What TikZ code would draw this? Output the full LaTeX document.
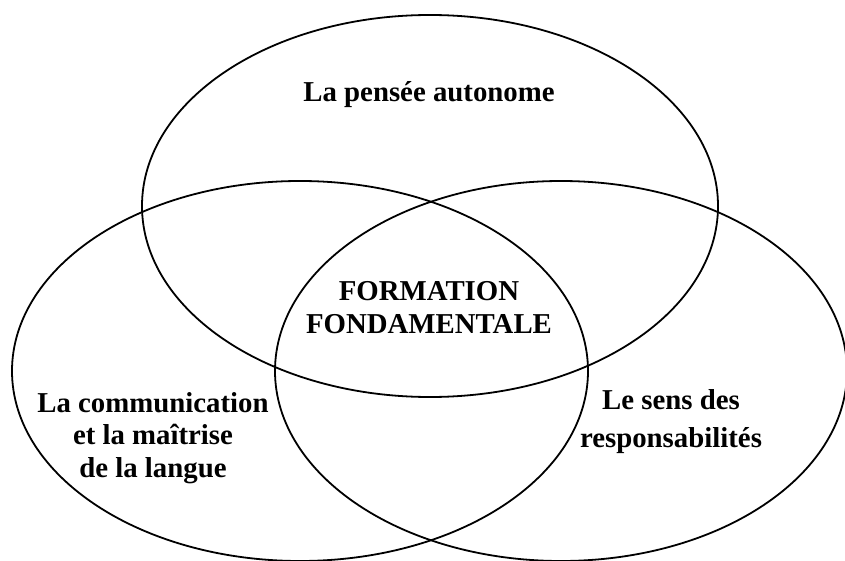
\documentclass[tikz,border=0pt]{standalone}
\usepackage{fontspec}
\setmainfont{Liberation Serif}
\tikzset{
  cercle/.style={line width=1.8pt},
  titre/.style={font=\fontsize{28.8}{32.5}\selectfont\bfseries, align=center, inner sep=0pt}
}
\begin{document}
\begin{tikzpicture}[x=1pt,y=-1pt]
    \useasboundingbox (0,0) rectangle (845,561);
    \coordinate (haut) at (430,206);
    \coordinate (gauche) at (300,371);
    \coordinate (droite) at (561,371);
    \draw [cercle] (haut) ellipse [x radius=288, y radius=191];
    \draw [cercle] (gauche) ellipse [x radius=288, y radius=190];
    \draw [cercle] (droite) ellipse [x radius=286, y radius=190];
    % base = ligne du bas
    \node (pensee) [titre, anchor=base] at (429,102) {La pensée autonome};
    \node (formation) [titre, anchor=base] at (429,333) {FORMATION\\FONDAMENTALE};
    \node (comm) [titre, anchor=base] at (153,477) {La communication\\et la maîtrise\\de la langue};
    \node (resp) [titre, anchor=base] at (671,447) {Le sens des\\[5pt]responsabilités};
\end{tikzpicture}
\end{document}
